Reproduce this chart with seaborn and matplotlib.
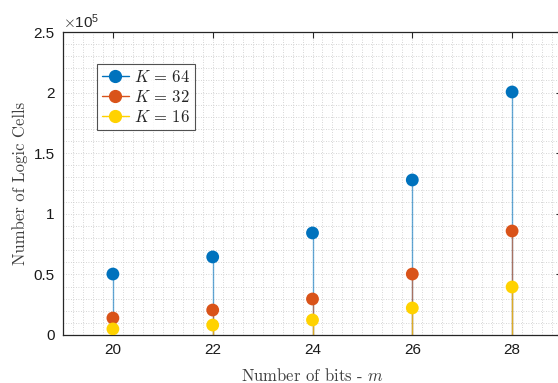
import numpy as np
import pandas as pd
import matplotlib
matplotlib.use('Agg')
import matplotlib.pyplot as plt
import seaborn as sns
from matplotlib.ticker import MultipleLocator, FuncFormatter
from matplotlib.legend_handler import HandlerLine2D
from matplotlib.lines import Line2D

bits = [20, 22, 24, 26, 28]
cells_k64 = [50300, 64400, 84200, 127900, 200500]
cells_k32 = [14000, 20600, 29700, 50300, 85800]
cells_k16 = [5000, 8200, 12400, 22300, 39600]
series_labels = [r'$K\,=\,64$', r'$K\,=\,32$', r'$K\,=\,16$']
colors = ['#0072BD', '#D95319', '#FFD200']

df = pd.DataFrame({
    'bits': bits * 3,
    'cells': cells_k64 + cells_k32 + cells_k16,
    'series': [series_labels[0]] * 5 + [series_labels[1]] * 5 + [series_labels[2]] * 5,
})


class StemHandler(HandlerLine2D):
    """Legend entry: line on the left, marker at its right end (MATLAB stem style)."""

    def get_xdata(self, legend, xdescent, ydescent, width, height, fontsize):
        x0 = -xdescent
        x1 = -xdescent + width
        return np.array([x0, x1]), np.array([x1])


sns.set_style('white')
plt.rcParams['mathtext.fontset'] = 'cm'
plt.rcParams['font.family'] = ['Liberation Sans', 'DejaVu Sans']

fig = plt.figure(figsize=(5.58, 3.83), dpi=100)
ax = fig.add_axes([63 / 558, 48 / 383, 499 / 558, 303 / 383])

# stems
for vals, c in zip([cells_k64, cells_k32, cells_k16], colors):
    ax.vlines(bits, 0, vals, color=c, lw=1.0, alpha=0.6, zorder=2)

sns.scatterplot(data=df, x='bits', y='cells', hue='series', palette=colors,
                s=85, edgecolor=None, linewidth=0, legend=False, zorder=3, ax=ax)

ax.set_xlim(19, 29)
ax.set_ylim(0, 2.5e5)
ax.set_xticks(bits)
ax.set_yticks(np.arange(0, 2.51e5, 0.5e5))
ax.yaxis.set_major_formatter(FuncFormatter(lambda v, p: '%g' % (v / 1e5)))
ax.xaxis.set_minor_locator(MultipleLocator(0.2))
ax.yaxis.set_minor_locator(MultipleLocator(1e4))
ax.grid(which='both', color='#c8c8c8', linestyle=(0, (1, 2)), lw=0.6)
ax.set_axisbelow(True)
ax.tick_params(which='major', direction='in', length=4, width=0.8, top=True, right=True,
               labelsize=11, colors='#262626', labelcolor='#1a1a1a', pad=6)
ax.tick_params(which='minor', length=0)
for s in ax.spines.values():
    s.set_color('#262626')
    s.set_linewidth(0.9)

ax.text(0.0, 1.003, r'$\times\mathregular{10^5}$', transform=ax.transAxes, fontsize=11,
        ha='left', va='bottom', color='#262626')

ax.set_xlabel('Number of bits - $m$', family='cmr10', fontsize=12,
              color='#404040', labelpad=7)
ax.set_ylabel('Number of Logic Cells', family='cmr10', fontsize=12,
              color='#404040', labelpad=4)

handles = [Line2D([], [], color=c, lw=1.0, marker='o', markersize=8.5,
                  markerfacecolor=c, markeredgecolor=c)
           for c in colors]
leg = ax.legend(handles, series_labels, loc='upper left', bbox_to_anchor=(0.068, 0.895),
                handler_map={Line2D: StemHandler()}, handlelength=1.6, handletextpad=0.3,
                fontsize=12, frameon=True, fancybox=False, borderpad=0.3,
                labelspacing=0.25, borderaxespad=0)
leg.get_frame().set_edgecolor('#262626')
leg.get_frame().set_linewidth(0.8)

fig.savefig('out.png', dpi=100)
